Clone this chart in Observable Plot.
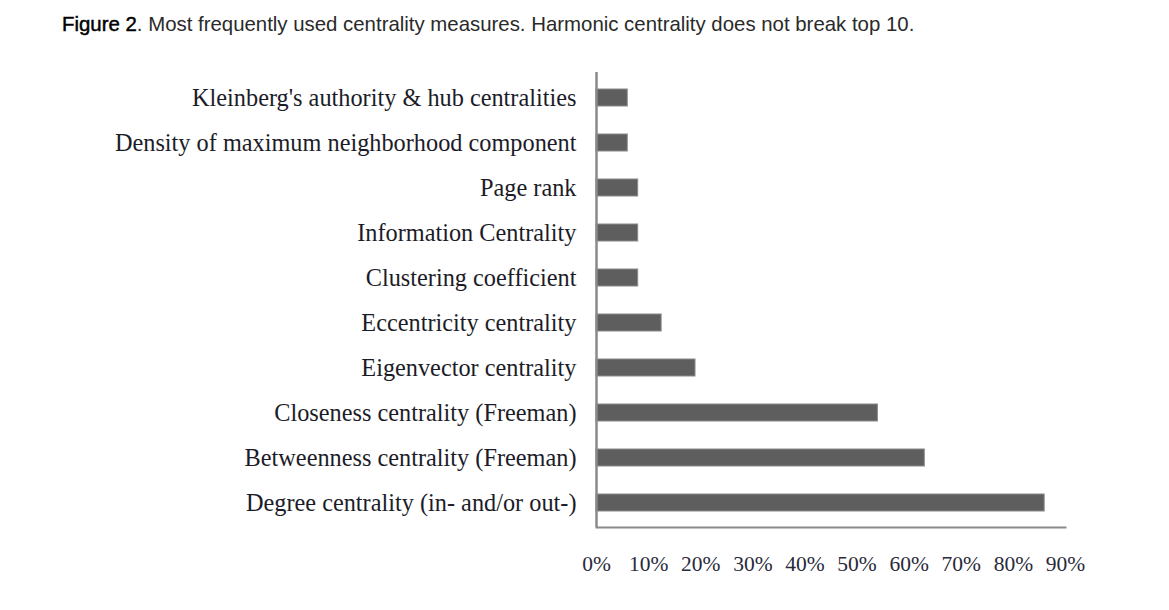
<!DOCTYPE html>
<html>
<head>
<meta charset="utf-8">
<script src="https://cdn.jsdelivr.net/npm/d3@7"></script>
<script src="https://cdn.jsdelivr.net/npm/@observablehq/plot@0.6"></script>
<style>
  html, body { margin: 0; padding: 0; background: #fff; }
  #title { position: absolute; left: 62px; top: 13px; font-family: "Liberation Sans", sans-serif; font-size: 20.4px; color: #2a2a2a; white-space: nowrap; }
  #title span.fig { color: #000; -webkit-text-stroke: 0.45px #000; }
  #chart { position: absolute; left: 0; top: 50px; }
</style>
</head>
<body>
<div id="title"><span class="fig">Figure 2</span>. Most frequently used centrality measures. Harmonic centrality does not break top 10.</div>
<div id="chart"></div>
<script>
const categories = [
  "Kleinberg's authority & hub centralities",
  "Density of maximum neighborhood component",
  "Page rank",
  "Information Centrality",
  "Clustering coefficient",
  "Eccentricity centrality",
  "Eigenvector centrality",
  "Closeness centrality (Freeman)",
  "Betweenness centrality (Freeman)",
  "Degree centrality (in- and/or out-)"
];
const values = [6, 6, 8, 8, 8, 12.5, 19, 54, 63, 86];
const xTicks = [0, 10, 20, 30, 40, 50, 60, 70, 80, 90];

const data = categories.map((c, i) => ({category: c, value: values[i]}));

const chart = Plot.plot({
  width: 1169,
  height: 537,
  marginLeft: 596,
  marginRight: 104,
  marginTop: 22,
  marginBottom: 60,
  style: {fontFamily: "'Liberation Serif', serif", background: "#fff"},
  x: {domain: [0, 90]},
  y: {domain: categories, paddingInner: 0.63, paddingOuter: 0.35},
  marks: [
    Plot.barX(data, {x: "value", y: "category", fill: "#5e5e5e", stroke: "#8a8a8a", strokeWidth: 1}),
    Plot.ruleX([0], {stroke: "#8a8a8a", strokeWidth: 2.5}),
    Plot.frame({anchor: "bottom", stroke: "#8a8a8a", strokeWidth: 2}),
    Plot.axisY({tickSize: 0, tickPadding: 20, fontSize: 24.3, fill: "#1c1c28", label: null}),
    Plot.axisX({ticks: xTicks, tickFormat: d => d + "%", tickSize: 0, tickPadding: 28, fontSize: 21.5, fill: "#2a2a3a", label: null})
  ]
});
document.getElementById("chart").appendChild(chart);
</script>
</body>
</html>
